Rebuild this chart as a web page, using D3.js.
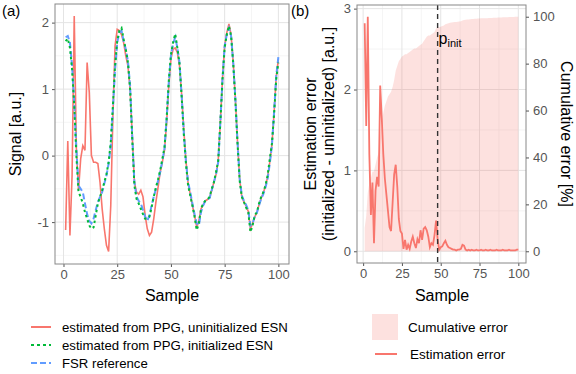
<!DOCTYPE html>
<html>
<head>
<meta charset="utf-8">
<script src="https://cdn.jsdelivr.net/npm/d3@7"></script>
<style>
  body { margin: 0; background: #fff; }
  text { font-family: "Liberation Sans", Arial, sans-serif; }
</style>
</head>
<body>
<div id="chart"></div>
<script>
// sample index 1..100
var samples = d3.range(1, 101);

// panel (a): signals
var uninitESN = [-1.12, 0.22, -1.20, -0.30, 2.10, 0.10, -0.52, -0.05, 0.15, 0.08,
  1.40, 0.95, 0.00, -0.10, -0.10, -0.12, -0.40, -0.80, -1.10, -1.35,
  -1.44, -0.75, 0.60, 1.65, 1.90, 1.88, 1.82, 1.70, 1.50, 1.35,
  1.00, 0.30, -0.40, -0.55, -0.58, -0.52, -0.62, -0.90, -1.10, -1.20,
  -1.15, -0.95, -0.70, -0.48, -0.25, -0.10, 0.08, 0.50, 1.05, 1.45,
  1.60, 1.62, 1.55, 1.35, 0.92, 0.38, -0.08, -0.42, -0.58, -0.75,
  -0.90, -1.08, -0.98, -0.80, -0.74, -0.68, -0.66, -0.63, -0.52, -0.40,
  -0.28, -0.08, 0.50, 1.15, 1.65, 1.85, 1.98, 1.82, 1.40, 0.85,
  0.20, -0.36, -0.62, -0.70, -0.76, -0.84, -1.10, -1.02, -0.92, -0.86,
  -0.74, -0.64, -0.56, -0.46, -0.32, -0.10, 0.16, 0.64, 1.18, 1.45];

var initESN = [1.72, 1.76, 1.62, 1.30, 0.75, 0.00, -0.55, -0.62, -0.72, -0.85,
  -0.95, -1.05, -1.10, -1.08, -0.90, -0.72, -0.62, -0.52, -0.40, -0.28,
  -0.10, 0.20, 0.75, 1.35, 1.72, 1.88, 1.92, 1.75, 1.60, 1.40,
  1.00, 0.25, -0.45, -0.65, -0.72, -0.80, -0.88, -0.95, -0.95, -0.92,
  -0.78, -0.62, -0.48, -0.36, -0.22, -0.05, 0.12, 0.55, 1.12, 1.52,
  1.70, 1.83, 1.62, 1.38, 0.88, 0.32, -0.12, -0.45, -0.60, -0.75,
  -0.92, -1.12, -1.02, -0.80, -0.72, -0.68, -0.66, -0.62, -0.50, -0.40,
  -0.25, -0.08, 0.50, 1.15, 1.62, 1.82, 1.95, 1.80, 1.38, 0.82,
  0.18, -0.38, -0.62, -0.70, -0.78, -0.85, -1.15, -1.05, -0.90, -0.85,
  -0.72, -0.62, -0.55, -0.45, -0.30, -0.05, 0.18, 0.62, 1.15, 1.40];

var fsrRef = [1.78, 1.80, 1.70, 1.35, 0.80, 0.10, -0.45, -0.50, -0.55, -0.72,
  -0.88, -0.98, -1.02, -0.95, -0.82, -0.70, -0.62, -0.55, -0.42, -0.30,
  -0.12, 0.15, 0.70, 1.30, 1.70, 1.85, 1.88, 1.72, 1.60, 1.42,
  1.05, 0.30, -0.40, -0.62, -0.68, -0.72, -0.82, -0.92, -0.98, -0.90,
  -0.75, -0.62, -0.50, -0.38, -0.25, -0.08, 0.10, 0.55, 1.10, 1.50,
  1.68, 1.78, 1.62, 1.40, 0.90, 0.35, -0.10, -0.40, -0.55, -0.72,
  -0.88, -1.02, -1.05, -0.85, -0.75, -0.68, -0.66, -0.64, -0.52, -0.40,
  -0.28, -0.10, 0.50, 1.15, 1.65, 1.82, 1.92, 1.80, 1.40, 0.85,
  0.20, -0.35, -0.60, -0.68, -0.74, -0.82, -1.05, -1.02, -0.92, -0.86,
  -0.75, -0.65, -0.58, -0.48, -0.35, -0.12, 0.15, 0.65, 1.20, 1.48];

// panel (b): estimation error [a.u.] and cumulative error [%]
var estError = [2.82, 1.55, 2.90, 1.20, 0.45, 0.85, 0.10, 0.75, 0.92, 0.80,
  2.05, 1.65, 1.20, 0.90, 0.70, 0.50, 0.30, 0.25, 0.60, 0.95,
  1.07, 0.80, 0.40, 0.25, 0.22, 0.03, 0.14, 0.02, 0.08, 0.03,
  0.12, 0.18, 0.10, 0.04, 0.15, 0.10, 0.26, 0.14, 0.28, 0.30,
  0.26, 0.18, 0.05, 0.10, 0.08, 0.20, 0.38, 0.15, 0.02, 0.05,
  0.06, 0.10, 0.13, 0.08, 0.05, 0.04, 0.03, 0.02, 0.02, 0.01,
  0.02, 0.02, 0.03, 0.08, 0.07, 0.02, 0.01, 0.02, 0.01, 0.02,
  0.01, 0.01, 0.02, 0.01, 0.01, 0.02, 0.01, 0.01, 0.02, 0.01,
  0.01, 0.02, 0.01, 0.01, 0.01, 0.02, 0.01, 0.01, 0.01, 0.02,
  0.01, 0.01, 0.01, 0.02, 0.01, 0.01, 0.01, 0.01, 0.02, 0.02];

var cumError = [10, 15, 25, 29, 31, 34, 34, 37, 40, 42,
  49, 55, 59, 62, 64, 66, 67, 68, 70, 73,
  77, 79, 81, 82, 83, 83.5, 84, 84, 84.5, 85,
  85.5, 86, 86.5, 86.5, 87, 87.5, 88, 88.5, 89.5, 90.5,
  91.5, 92, 92, 92.5, 93, 93.5, 95, 95.5, 95.5, 95.7,
  96, 96.3, 96.8, 97, 97.2, 97.4, 97.5, 97.6, 97.7, 97.8,
  97.9, 98, 98.1, 98.4, 98.6, 98.7, 98.8, 98.8, 98.9, 99,
  99, 99.1, 99.1, 99.2, 99.2, 99.3, 99.3, 99.4, 99.4, 99.4,
  99.5, 99.5, 99.5, 99.6, 99.6, 99.6, 99.7, 99.7, 99.7, 99.8,
  99.8, 99.8, 99.8, 99.9, 99.9, 99.9, 99.9, 100, 100, 100];

var pInit = 48;

var xTicks = [0, 25, 50, 75, 100];
var xMinor = [12.5, 37.5, 62.5, 87.5];
var yTicksA = [-1, 0, 1, 2];
var yMinorA = [-1.5, -0.5, 0.5, 1.5];
var yTicksB = [0, 1, 2, 3];
var yMinorB = [0.5, 1.5, 2.5];
var yTicksR = [0, 20, 40, 60, 80, 100];

var red = "#F8766D", green = "#00BA38", blue = "#619CFF";

var width = 576, height = 374;
var svg = d3.select("#chart").append("svg")
  .attr("width", width).attr("height", height);

var plain = function(d) { return "" + d; };

// draws grid, border and bottom/left axes for a panel
function panel(box, xs, ys, yTicks, yMinor) {
  var g = svg.append("g");
  g.selectAll(".minx").data(xMinor).enter().append("line")
    .attr("x1", function(d) { return xs(d); }).attr("x2", function(d) { return xs(d); })
    .attr("y1", box.top).attr("y2", box.bottom)
    .attr("stroke", "#f0f0f0").attr("stroke-width", 0.7);
  g.selectAll(".miny").data(yMinor).enter().append("line")
    .attr("y1", function(d) { return ys(d); }).attr("y2", function(d) { return ys(d); })
    .attr("x1", box.left).attr("x2", box.right)
    .attr("stroke", "#f0f0f0").attr("stroke-width", 0.7);
  g.selectAll(".majx").data(xTicks).enter().append("line")
    .attr("x1", function(d) { return xs(d); }).attr("x2", function(d) { return xs(d); })
    .attr("y1", box.top).attr("y2", box.bottom)
    .attr("stroke", "#e4e4e4").attr("stroke-width", 1);
  g.selectAll(".majy").data(yTicks).enter().append("line")
    .attr("y1", function(d) { return ys(d); }).attr("y2", function(d) { return ys(d); })
    .attr("x1", box.left).attr("x2", box.right)
    .attr("stroke", "#e4e4e4").attr("stroke-width", 1);

  var xa = svg.append("g").attr("transform", "translate(0," + box.bottom + ")")
    .call(d3.axisBottom(xs).tickValues(xTicks).tickFormat(plain).tickSize(3).tickPadding(3));
  var ya = svg.append("g").attr("transform", "translate(" + box.left + ",0)")
    .call(d3.axisLeft(ys).tickValues(yTicks).tickFormat(plain).tickSize(3).tickPadding(3));
  [xa, ya].forEach(function(a) {
    a.select(".domain").remove();
    a.selectAll("line").attr("stroke", "#555");
    a.selectAll("text").attr("fill", "#555").style("font-size", "13px")
      .style("font-family", "Liberation Sans, Arial, sans-serif");
  });
  return g;
}

function border(box) {
  svg.append("rect")
    .attr("x", box.left).attr("y", box.top)
    .attr("width", box.right - box.left).attr("height", box.bottom - box.top)
    .attr("fill", "none").attr("stroke", "#888").attr("stroke-width", 1);
}

// ---------- panel (a)
var boxA = {left: 55, right: 289, top: 4, bottom: 264};
var xA = d3.scaleLinear().domain([-3.95, 104.95]).range([boxA.left, boxA.right]);
var yA = d3.scaleLinear().domain([-1.63, 2.28]).range([boxA.bottom, boxA.top]);
var gA = panel(boxA, xA, yA, yTicksA, yMinorA);

var lineA = d3.line()
  .x(function(d, i) { return xA(samples[i]); })
  .y(function(d) { return yA(d); });

gA.append("path").attr("d", lineA(uninitESN))
  .attr("fill", "none").attr("stroke", red).attr("stroke-width", 1.6);
gA.append("path").attr("d", lineA(fsrRef))
  .attr("fill", "none").attr("stroke", blue).attr("stroke-width", 2)
  .attr("stroke-dasharray", "6,3");
gA.append("path").attr("d", lineA(initESN))
  .attr("fill", "none").attr("stroke", green).attr("stroke-width", 2)
  .attr("stroke-dasharray", "2.5,3");
border(boxA);

svg.append("text").attr("x", 172).attr("y", 301).attr("text-anchor", "middle")
  .style("font-size", "16px").text("Sample");
svg.append("text").attr("transform", "translate(21,134) rotate(-90)")
  .attr("text-anchor", "middle").style("font-size", "16px").text("Signal [a.u.]");
svg.append("text").attr("x", 2).attr("y", 16).style("font-size", "15px").text("(a)");

// ---------- panel (b)
var boxB = {left: 357, right: 526, top: 5, bottom: 263};
var xB = d3.scaleLinear().domain([-3.95, 104.95]).range([boxB.left, boxB.right]);
var yB = d3.scaleLinear().domain([-0.145, 3.045]).range([boxB.bottom, boxB.top]);
var yR = d3.scaleLinear().domain([0, 100]).range([yB(0), yB(2.9)]);
var gB = panel(boxB, xB, yB, yTicksB, yMinorB);

var area = d3.area()
  .x(function(d, i) { return xB(samples[i]); })
  .y0(yR(0))
  .y1(function(d) { return yR(d); });
gB.append("path").attr("d", area(cumError))
  .attr("fill", red).attr("fill-opacity", 0.22);

var lineB = d3.line()
  .x(function(d, i) { return xB(samples[i]); })
  .y(function(d) { return yB(d); });
gB.append("path").attr("d", lineB(estError))
  .attr("fill", "none").attr("stroke", red).attr("stroke-width", 1.8);

gB.append("line")
  .attr("x1", xB(pInit)).attr("x2", xB(pInit))
  .attr("y1", boxB.top).attr("y2", boxB.bottom)
  .attr("stroke", "#333").attr("stroke-width", 1.4).attr("stroke-dasharray", "5,4");
var pl = svg.append("text").attr("x", xB(pInit) + 1).attr("y", 44).style("font-size", "16px");
pl.append("tspan").text("p");
pl.append("tspan").attr("dy", 3).style("font-size", "11px").text("init");
border(boxB);

var ra = svg.append("g").attr("transform", "translate(" + boxB.right + ",0)")
  .call(d3.axisRight(yR).tickValues(yTicksR).tickFormat(plain).tickSize(3).tickPadding(4));
ra.select(".domain").remove();
ra.selectAll("line").attr("stroke", "#555");
ra.selectAll("text").attr("fill", "#555").style("font-size", "13px");

svg.append("text").attr("x", 442).attr("y", 301).attr("text-anchor", "middle")
  .style("font-size", "16px").text("Sample");
svg.append("text").attr("transform", "translate(316,134) rotate(-90)")
  .attr("text-anchor", "middle").style("font-size", "16px").text("Estimation error");
svg.append("text").attr("transform", "translate(334,134) rotate(-90)")
  .attr("text-anchor", "middle").style("font-size", "16px").text("(initialized - uninitialized) [a.u.]");
svg.append("text").attr("transform", "translate(561,134) rotate(90)")
  .attr("text-anchor", "middle").style("font-size", "16px").text("Cumulative error [%]");
svg.append("text").attr("x", 291).attr("y", 16).style("font-size", "15px").text("(b)");

// ---------- legends
var legA = [
  {label: "estimated from PPG, uninitialized ESN", color: red, dash: null},
  {label: "estimated from PPG, initialized ESN", color: green, dash: "3,3"},
  {label: "FSR reference", color: blue, dash: "6,3"}
];
var lg = svg.append("g");
legA.forEach(function(d, i) {
  var y = 327 + i * 18;
  lg.append("line").attr("x1", 31).attr("x2", 51).attr("y1", y).attr("y2", y)
    .attr("stroke", d.color).attr("stroke-width", 2)
    .attr("stroke-dasharray", d.dash);
  lg.append("text").attr("x", 62).attr("y", y + 5).style("font-size", "13.2px").text(d.label);
});

lg.append("rect").attr("x", 372).attr("y", 314).attr("width", 26).attr("height", 26)
  .attr("fill", red).attr("fill-opacity", 0.22);
lg.append("text").attr("x", 408).attr("y", 332).style("font-size", "13.5px").text("Cumulative error");
lg.append("line").attr("x1", 375).attr("x2", 397).attr("y1", 354).attr("y2", 354)
  .attr("stroke", red).attr("stroke-width", 2);
lg.append("text").attr("x", 410).attr("y", 359).style("font-size", "13.5px").text("Estimation error");
</script>
</body>
</html>
